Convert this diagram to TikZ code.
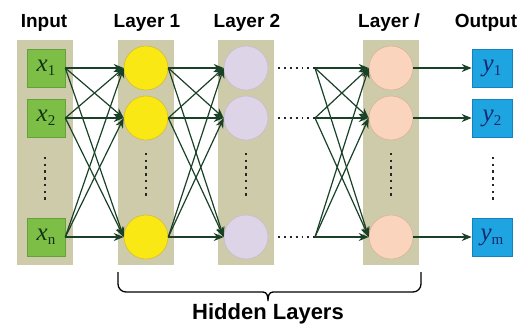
\documentclass[tikz,border=0pt]{standalone}
\usepackage{fontspec}
\setmainfont{Liberation Sans}
\newfontfamily\tnr{Liberation Serif}
\usetikzlibrary{arrows.meta}
\definecolor{bgcol}{RGB}{206,203,170}
\definecolor{ingreen}{RGB}{125,190,70}
\definecolor{ingreenb}{RGB}{100,160,60}
\definecolor{yel}{RGB}{250,232,20}
\definecolor{yelb}{RGB}{215,190,50}
\definecolor{lav}{RGB}{222,212,232}
\definecolor{lavb}{RGB}{200,188,205}
\definecolor{peach}{RGB}{250,212,188}
\definecolor{peachb}{RGB}{220,180,150}
\definecolor{outblue}{RGB}{30,165,225}
\definecolor{outblueb}{RGB}{20,130,190}
\definecolor{arrcol}{RGB}{25,65,40}
\definecolor{ycol}{RGB}{20,40,110}
\definecolor{xcol}{RGB}{20,50,20}
\newcommand{\varsub}[2]{{\tnr\itshape #1}\raisebox{-4pt}{\tnr\fontsize{15}{15}\selectfont #2}}
\begin{document}
\begin{tikzpicture}[x=1pt,y=-1pt,
  colbg/.style={fill=bgcol, draw=none, minimum width=56pt, minimum height=225pt, inner sep=0pt},
  inbox/.style={fill=ingreen, draw=ingreenb, line width=0.6pt, minimum width=38pt, minimum height=38pt, inner sep=0pt, text=xcol, font=\fontsize{25}{25}\selectfont},
  outbox/.style={fill=outblue, draw=outblueb, line width=0.6pt, minimum width=40pt, minimum height=38pt, inner sep=0pt, text=ycol, font=\fontsize{25}{25}\selectfont},
  neuron/.style={circle, minimum size=44pt, inner sep=0pt, line width=0.6pt},
  title/.style={font=\fontsize{19}{19}\selectfont\bfseries},
  conn/.style={draw=arrcol, line width=1.2pt, -{Stealth[length=10pt,width=8pt]}},
  vdots/.style={line width=2.4pt, dash pattern=on 2.4pt off 4.3pt, draw=black!85},
  hdots/.style={line width=1.8pt, dash pattern=on 1.8pt off 4pt, draw=black!85}
]
\useasboundingbox (0,0) rectangle (530,327);
% column backgrounds
\node[colbg] (cin) at (45,152.5) {};
\node[colbg] (c1) at (146,152.5) {};
\node[colbg] (c2) at (246,152.5) {};
\node[colbg] (cl) at (391,152.5) {};
% titles
\node[title] (tin) at (44,23) {Input};
\node[title] (t1) at (147,23) {Layer 1};
\node[title] (t2) at (247,23) {Layer 2};
\node[title] (tl) at (389,23) {Layer \textit{l}};
\node[title] (tout) at (486,23) {Output};
% inputs
\node[inbox] (x1) at (46,68) {\varsub{x}{1}};
\node[inbox] (x2) at (46,118) {\varsub{x}{2}};
\node[inbox] (xn) at (46,237) {\varsub{x}{n}};
% neurons
\foreach \n/\y in {1/68,2/118,n/237}{
  \node[neuron, fill=yel, draw=yelb] (a\n) at (146,\y) {};
  \node[neuron, fill=lav, draw=lavb] (b\n) at (246,\y) {};
  \node[neuron, fill=peach, draw=peachb] (l\n) at (391,\y) {};
  \coordinate (f\n) at (315,\y);
}
% outputs
\node[outbox] (y1) at (492,68) {\varsub{y}{1}};
\node[outbox] (y2) at (492,118) {\varsub{y}{2}};
\node[outbox] (ym) at (492,237) {\varsub{y}{m}};
% vertical dots
\draw[vdots] (45,157) -- (45,202);
\draw[vdots] (146,153) -- (146,198);
\draw[vdots] (246,153) -- (246,198);
\draw[vdots] (391,153) -- (391,198);
\draw[vdots] (493,157) -- (493,202);
% connections
\foreach \s in {1,2,n}{
  \foreach \t in {1,2,n}{
    \draw[conn] (x\s.east) -- (a\t.west);
    \draw[conn] (a\s.east) -- (b\t.west);
    \draw[conn] (f\s) -- (l\t.west);
  }
  \draw[hdots] ([xshift=10pt]b\s.east) -- (f\s);
}
\draw[conn] (l1.east) -- (y1.west);
\draw[conn] (l2.east) -- (y2.west);
\draw[conn] (ln.east) -- (ym.west);
% brace
\draw[line width=1.3pt, rounded corners=8pt] (118,272) -- (118,292) -- (263,292);
\draw[line width=1.3pt, rounded corners=8pt] (273,292) -- (421,292) -- (421,272);
\draw[line width=1.3pt] (263,292) .. controls (267,292) and (268,296) .. (268,301)
  .. controls (268,296) and (269,292) .. (273,292);
\node[font=\fontsize{22}{22}\selectfont\bfseries] (hid) at (268,314) {Hidden Layers};
\end{tikzpicture}
\end{document}
